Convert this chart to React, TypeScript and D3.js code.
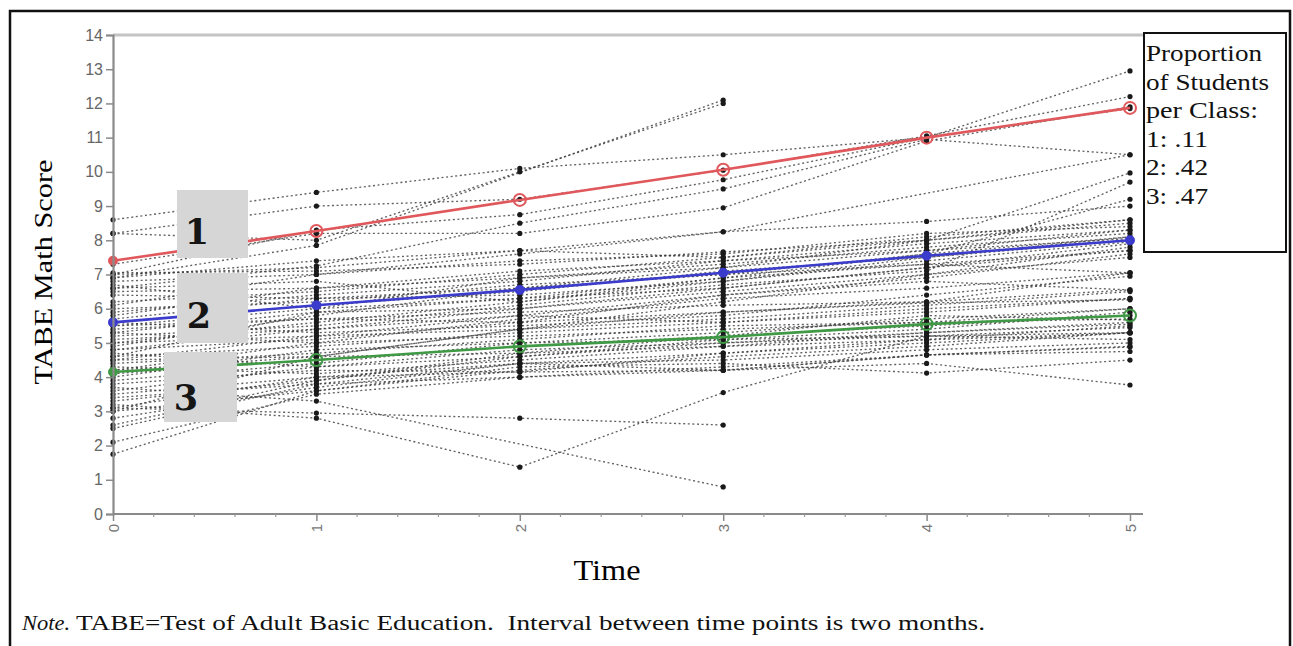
import React, { useRef, useEffect } from 'react';
import * as d3 from 'd3';

const WIDTH = 1293;
const HEIGHT = 646;

const TIMES = [0, 1, 2, 3, 4, 5];
const Y_TICKS = [0, 1, 2, 3, 4, 5, 6, 7, 8, 9, 10, 11, 12, 13, 14];

// estimated class trajectories (model means)
const CLASS1_MEAN = [7.4, 8.27, 9.18, 10.06, 11.0, 11.87];
const CLASS2_MEAN = [5.6, 6.1, 6.55, 7.05, 7.55, 8.0];
const CLASS3_MEAN = [4.15, 4.5, 4.9, 5.17, 5.55, 5.8];

// observed student scores at time 0..5 (null = missing)
const CLASS1_STUDENTS: (number | null)[][] = [
  [8.6, 9.4, 10.1, 10.5, 11.0, 12.95],
  [8.2, 9.0, 9.2, 10.05, 11.05, 12.2],
  [7.0, 8.3, 8.75, 9.77, 11.0, 11.85],
  [6.9, 7.85, null, 12.1, null, null],
  [8.2, 8.0, 10.0, 12.0, null, null],
  [6.6, 7.25, 8.5, 9.5, 10.95, 10.5],
  [7.3, 8.2, 8.2, 8.95, 10.9, 11.9],
];

const CLASS2_STUDENTS: (number | null)[][] = [
  [5.6, 6.1, 6.5, 7.1, 7.5, 8.0],
  [6.2, 6.5, 7.0, 7.5, 8.0, 8.5],
  [7.0, 7.2, 7.7, 8.25, 8.55, 9.0],
  [6.8, 7.0, 7.4, 7.6, 8.2, 8.4],
  [5.0, 5.6, 6.2, 6.8, 7.5, 8.1],
  [4.8, 5.4, 6.0, 6.6, 7.2, 7.9],
  [6.5, 6.6, 6.9, 7.3, 7.8, 8.2],
  [5.3, 5.9, 6.3, 6.9, 7.3, 7.7],
  [5.9, 6.4, 6.8, 7.4, 7.9, 8.3],
  [4.5, 5.2, 5.8, 6.4, 6.9, 7.6],
  [6.0, 6.2, 6.7, 7.0, 7.6, 8.1],
  [7.05, 7.1, 7.3, 7.66, 8.0, 8.6],
  [5.7, 6.3, 6.4, 6.8, 7.4, 7.95],
  [3.0, 4.6, 5.4, 6.2, 7.0, 7.8],
  [6.6, 6.8, 6.2, 6.9, 7.6, 9.2],
  [5.2, 5.5, 6.1, 6.7, 7.1, 9.7],
  [4.9, 5.8, 6.6, 7.2, 8.0, 9.97],
  [6.1, 7.0, 7.6, 8.25, null, 10.5],
  [5.5, 6.0, 6.9, 7.2, 7.7, 8.05],
  [6.4, 6.3, 6.6, 7.0, 7.3, 7.05],
  [4.6, 5.9, 6.0, 6.5, 7.0, 7.5],
  [5.8, 6.6, 7.1, 7.4, 7.7, 8.3],
  [6.9, 7.4, 7.7, 7.5, 8.1, 8.6],
  [4.2, 5.0, 5.7, 6.3, 6.6, 7.05],
  [5.4, 5.7, 5.6, 6.4, 6.8, 6.55],
  [6.7, 6.0, 6.3, 6.6, 7.2, 7.7],
];

const CLASS3_STUDENTS: (number | null)[][] = [
  [4.1, 4.5, 4.9, 5.2, 5.5, 5.8],
  [3.5, 4.0, 4.4, 4.7, 5.0, 5.3],
  [4.6, 4.9, 5.3, 5.6, 5.9, 6.3],
  [3.0, 3.6, 4.2, 4.6, 4.9, 5.3],
  [5.0, 5.2, 5.4, 5.7, 6.1, 6.5],
  [2.5, 3.8, 4.4, 4.2, 4.65, 4.9],
  [3.8, 4.2, 4.15, 4.7, 5.1, 5.5],
  [4.4, 4.7, 5.1, 5.5, 5.6, 5.7],
  [2.1, 3.5, 4.0, 4.3, 4.65, 4.75],
  [3.3, 3.9, 4.6, 5.0, 5.3, 5.6],
  [5.3, 5.0, 5.2, 5.4, 5.6, 6.0],
  [4.8, 5.1, 5.6, 5.9, 6.2, 7.05],
  [3.9, 4.4, 5.0, 5.1, 5.4, 5.9],
  [2.8, 3.7, 4.4, 4.5, 4.8, 5.0],
  [1.75, 3.6, 4.3, 4.4, 4.12, 4.5],
  [3.6, 4.3, 4.6, 5.1, 5.2, 5.45],
  [4.3, 4.1, 4.5, 4.9, 5.3, 5.55],
  [5.5, 5.7, 5.9, 6.1, 6.2, 6.55],
  [3.4, 3.8, 4.0, 4.2, 4.4, 3.77],
  [4.2, 4.6, 5.4, 5.9, 6.17, 6.26],
  [3.2, 2.8, 1.37, 3.55, 5.2, 5.3],
  [3.1, 2.95, 2.8, 2.6, null, null],
  [3.7, 3.3, null, 0.79, null, null],
  [4.0, 4.8, 5.0, 5.3, 5.7, 6.0],
  [4.7, 4.3, 4.8, 5.0, 5.2, 5.1],
  [2.6, 3.9, 4.7, 4.9, 5.09, 5.29],
  [4.5, 4.6, 4.7, 5.2, 5.8, 5.67],
  [5.1, 5.4, 5.8, 5.6, 6.0, 6.3],
  [3.1, 4.0, 4.15, 4.2, 4.65, 4.88],
  [5.6, 5.3, 5.5, 5.8, 6.4, 6.95],
];

const CLASS_LABELS = ['1', '2', '3'];
const CLASS_COLORS = ['#e0585c', '#3b3bcc', '#3f9945'];
const CLASS_PROPORTIONS = ['.11', '.42', '.47'];

const SERIF = '"Liberation Serif", "Times New Roman", serif';
const SANS = '"Liberation Sans", Arial, sans-serif';

type Pt = { t: number; v: number };

const App = () => {
  const svgRef = useRef<SVGSVGElement | null>(null);

  useEffect(() => {
    const svg = d3.select(svgRef.current);
    svg.selectAll('*').remove();

    const x = d3.scaleLinear().domain([0, 5]).range([113, 1130]);
    const y = d3.scaleLinear().domain([0, 14]).range([514, 35]);
    const xEnd = x(5) + 13;

    svg.append('rect').attr('width', WIDTH).attr('height', HEIGHT).attr('fill', 'white');

    // outer figure frame
    svg.append('rect')
      .attr('x', 10).attr('y', 11)
      .attr('width', 1280).attr('height', 700)
      .attr('fill', 'none').attr('stroke', '#111').attr('stroke-width', 2.5);

    // top frame line of the plot
    svg.append('line')
      .attr('x1', x(0)).attr('x2', xEnd).attr('y1', y(14)).attr('y2', y(14))
      .attr('stroke', '#c4c4c4').attr('stroke-width', 3);

    const line = d3.line<Pt>().x(d => x(d.t)).y(d => y(d.v));
    const toPts = (row: (number | null)[]): Pt[] =>
      TIMES.map((t, i) => ({ t, v: row[i] as number })).filter(p => p.v != null);

    const students = [...CLASS1_STUDENTS, ...CLASS2_STUDENTS, ...CLASS3_STUDENTS].map(toPts);

    const traj = svg.append('g');
    traj.selectAll('path')
      .data(students)
      .join('path')
      .attr('d', d => line(d))
      .attr('fill', 'none')
      .attr('stroke', '#3a3a3a')
      .attr('stroke-width', 1.35)
      .attr('stroke-dasharray', '2 2.6')
      .attr('opacity', 0.8);

    traj.selectAll('circle')
      .data(students.flat())
      .join('circle')
      .attr('cx', d => x(d.t))
      .attr('cy', d => y(d.v))
      .attr('r', 2.6)
      .attr('fill', '#1a1a1a');

    // class mean trajectories
    const means = [CLASS1_MEAN, CLASS2_MEAN, CLASS3_MEAN].map(m => TIMES.map((t, i) => ({ t, v: m[i] })));
    means.forEach((pts, k) => {
      const g = svg.append('g');
      g.append('path')
        .attr('d', line(pts))
        .attr('fill', 'none')
        .attr('stroke', CLASS_COLORS[k])
        .attr('stroke-width', 2.6);
      g.selectAll('circle')
        .data(pts)
        .join('circle')
        .attr('cx', d => x(d.t))
        .attr('cy', d => y(d.v))
        .attr('r', d => (d.t === 0 || k === 1 ? 4 : 6))
        .attr('fill', d => (d.t === 0 || k === 1 ? CLASS_COLORS[k] : 'none'))
        .attr('stroke', CLASS_COLORS[k])
        .attr('stroke-width', 2);
    });

    // y axis
    const yAxis = svg.append('g')
      .attr('transform', `translate(${x(0)},0)`)
      .call(d3.axisLeft(y).tickValues(Y_TICKS).tickSize(7).tickPadding(3).tickFormat(d3.format('d')));
    yAxis.select('.domain').attr('stroke', '#8a8a8a').attr('stroke-width', 2.2);
    yAxis.selectAll('.tick line').attr('stroke', '#8a8a8a').attr('stroke-width', 1.5);
    yAxis.selectAll('.tick text')
      .attr('fill', '#666').style('font-family', SANS).style('font-size', '16px');

    // x axis
    const xAxis = svg.append('g')
      .attr('transform', `translate(0,${y(0)})`)
      .call(d3.axisBottom(x).tickValues(TIMES).tickSize(7).tickFormat(d3.format('d')));
    xAxis.select('.domain').remove();
    xAxis.append('line')
      .attr('x1', x(0)).attr('x2', xEnd)
      .attr('stroke', '#8a8a8a').attr('stroke-width', 2.2);
    xAxis.selectAll('.tick line').attr('stroke', '#8a8a8a').attr('stroke-width', 1.5);
    xAxis.selectAll('.tick text')
      .attr('transform', 'rotate(-90)')
      .attr('x', -14).attr('y', 0).attr('dy', '0.35em')
      .attr('text-anchor', 'middle')
      .attr('fill', '#777').style('font-family', SANS).style('font-size', '15px');
    xAxis.selectAll('.minor')
      .data(d3.range(0, 5.001, 0.2).filter(v => Math.abs(v - Math.round(v)) > 0.01))
      .join('line')
      .attr('class', 'minor')
      .attr('x1', d => x(d)).attr('x2', d => x(d))
      .attr('y1', 0).attr('y2', 3)
      .attr('stroke', '#9a9a9a').attr('stroke-width', 1.2);

    // class label boxes
    const boxes = [
      { x: 177, y: 190, w: 71, h: 68, tx: 197, ty: 244 },
      { x: 177, y: 273, w: 71, h: 70, tx: 199, ty: 328 },
      { x: 164, y: 352, w: 73, h: 70, tx: 186, ty: 410 },
    ];
    boxes.forEach((b, i) => {
      svg.append('rect')
        .attr('x', b.x).attr('y', b.y).attr('width', b.w).attr('height', b.h)
        .attr('fill', '#d6d6d6');
      svg.append('text')
        .attr('x', b.tx).attr('y', b.ty)
        .attr('text-anchor', 'middle')
        .style('font-family', '"DejaVu Serif", serif')
        .style('font-size', '35px')
        .style('font-weight', 'bold')
        .attr('fill', '#151515')
        .text(CLASS_LABELS[i]);
    });

    // axis titles
    svg.append('text')
      .attr('transform', `translate(52,272) rotate(-90)`)
      .attr('text-anchor', 'middle')
      .style('font-family', SERIF).style('font-size', '25px')
      .attr('textLength', 225).attr('lengthAdjust', 'spacingAndGlyphs')
      .text('TABE Math Score');

    svg.append('text')
      .attr('x', (x(0) + xEnd) / 2 - 21).attr('y', 580)
      .attr('text-anchor', 'middle')
      .style('font-family', SERIF).style('font-size', '29px')
      .attr('textLength', 67).attr('lengthAdjust', 'spacingAndGlyphs')
      .text('Time');

    // legend box
    svg.append('rect')
      .attr('x', 1144).attr('y', 33).attr('width', 142).attr('height', 219)
      .attr('fill', 'white').attr('stroke', '#111').attr('stroke-width', 2);
    const legendLines = [
      { s: 'Proportion', w: 116 },
      { s: 'of Students', w: 123 },
      { s: 'per Class:', w: 112 },
      ...CLASS_LABELS.map((l, i) => ({ s: `${l}: ${CLASS_PROPORTIONS[i]}`, w: 62 })),
    ];
    svg.append('g').selectAll('text')
      .data(legendLines)
      .join('text')
      .attr('x', 1146)
      .attr('y', (_, i) => 61 + i * 28.5)
      .style('font-family', SERIF).style('font-size', '23px')
      .attr('fill', '#111')
      .attr('textLength', d => d.w).attr('lengthAdjust', 'spacingAndGlyphs')
      .text(d => d.s);

    // note
    svg.append('text')
      .attr('x', 22).attr('y', 630)
      .style('font-family', SERIF).style('font-size', '20px').style('font-style', 'italic')
      .attr('fill', '#111')
      .attr('textLength', 48).attr('lengthAdjust', 'spacingAndGlyphs')
      .text('Note.');
    svg.append('text')
      .attr('x', 76).attr('y', 630)
      .style('font-family', SERIF).style('font-size', '20px')
      .attr('fill', '#111')
      .attr('textLength', 909).attr('lengthAdjust', 'spacingAndGlyphs')
      .style('white-space', 'pre')
      .text('TABE=Test of Adult Basic Education.  Interval between time points is two months.');
  }, []);

  return (
    <div style={{ position: 'absolute', left: 0, top: 0 }}>
      <svg ref={svgRef} width={WIDTH} height={HEIGHT} style={{ display: 'block' }} />
    </div>
  );
};

export default App;
